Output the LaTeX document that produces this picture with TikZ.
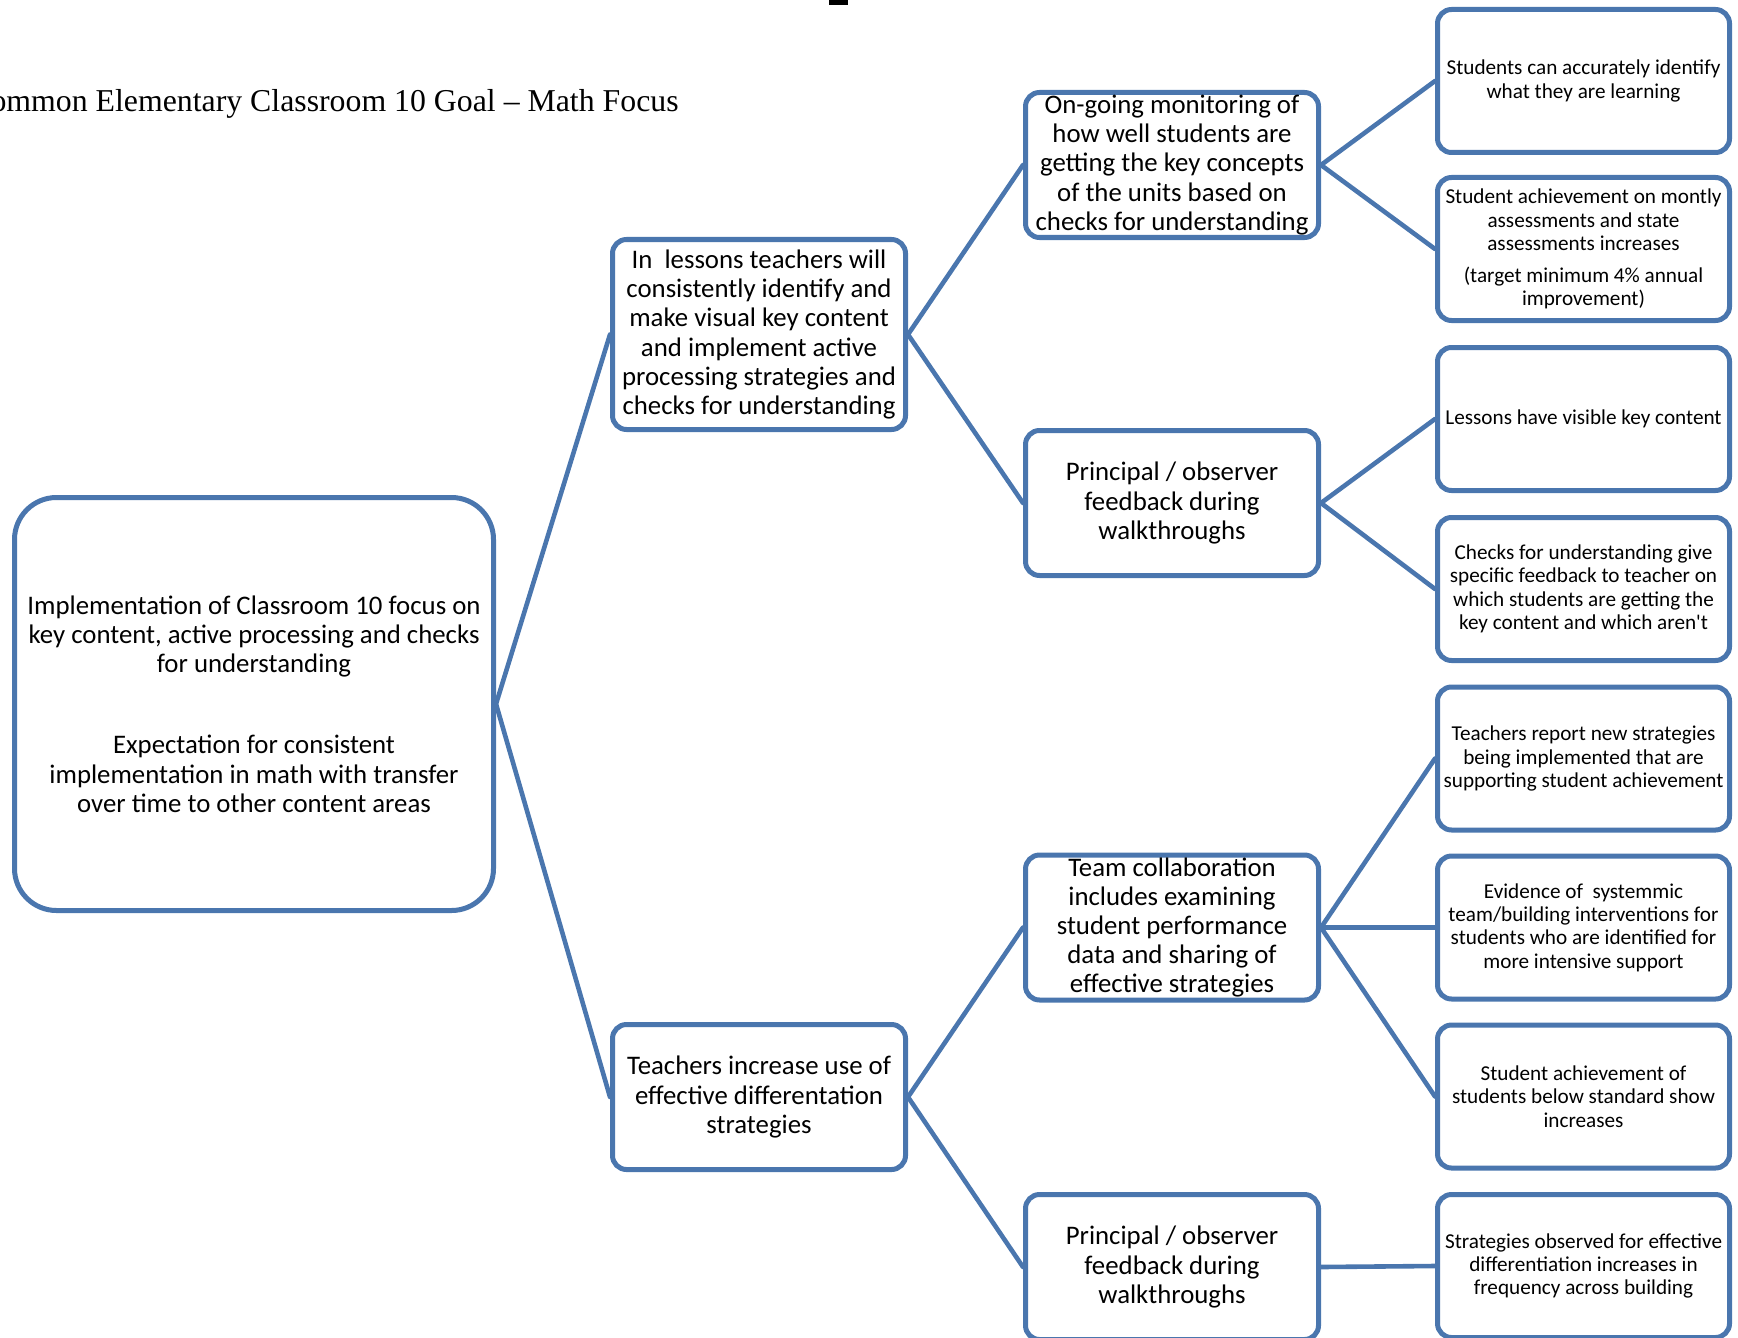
\documentclass[tikz,border=0pt]{standalone}
\usepackage{fontspec}
\setmainfont{Carlito}
\newfontfamily\titlefont{Liberation Serif}
\usetikzlibrary{positioning}
\definecolor{boxblue}{HTML}{4A76AE}

\begin{document}
\begin{tikzpicture}[x=0.5pt, y=-0.5pt,
  box/.style={draw=boxblue, line width=2.5pt, fill=white, rounded corners=7pt, align=center, inner sep=1pt,
    font=\fontsize{13.4}{14.6}\selectfont},
  midbox/.style={box, minimum width=146.5pt, minimum height=72.5pt},
  leaf/.style={box, minimum width=146pt, minimum height=71.5pt, font=\fontsize{10.6}{11.7}\selectfont},
  link/.style={draw=boxblue, line width=2.3pt, line cap=round}]
\useasboundingbox (0,0) rectangle (1738,1337);
\clip (0,0) rectangle (1738,1337);

% page title, cut off at the edges
\node[anchor=base east, inner sep=0pt, font=\titlefont\fontsize{15.9}{18}\selectfont] (title) at (679,112)
  {Common Elementary Classroom 10 Goal – Math Focus};
\fill (829,0) rectangle (848,5);

% goal
\node[box, minimum width=239.5pt, minimum height=206.5pt, rounded corners=21pt] (goal) at (254,704)
  {Implementation of Classroom 10 focus on\\ key content, active processing and checks\\ for understanding\\[26pt]
   Expectation for consistent\\ implementation in math with transfer\\ over time to other content areas};

% strategies
\node[midbox, minimum height=95pt] (lesson) at (759,334.5)
  {In\ \ lessons teachers will\\ consistently identify and\\ make visual key content\\ and implement active\\ processing strategies and\\ checks for understanding};
\node[midbox] (diff) at (759,1097)
  {Teachers increase use of\\ effective differentation\\ strategies};

% actions
\node[midbox] (monitor) at (1172,165)
  {On-going monitoring of\\ how well students are\\ getting the key concepts\\ of the units based on\\ checks for understanding};
\node[midbox] (walk1) at (1172,503) {Principal / observer\\ feedback during\\ walkthroughs};
\node[midbox] (team) at (1172,927.5)
  {Team collaboration\\ includes examining\\ student performance\\ data and sharing of\\ effective strategies};
\node[midbox] (walk2) at (1172,1267) {Principal / observer\\ feedback during\\ walkthroughs};

% outcomes
\node[leaf] (o1) at (1583.5,81) {Students can accurately identify\\ what they are learning};
\node[leaf] (o2) at (1583.5,249)
  {Student achievement on montly\\ assessments and state\\ assessments increases\\[4pt] (target minimum 4\% annual\\ improvement)};
\node[leaf] (o3) at (1583.5,419) {Lessons have visible key content};
\node[leaf] (o4) at (1583.5,589)
  {Checks for understanding give\\ specific feedback to teacher on\\ which students are getting the\\ key content and which aren\textquotesingle t};
\node[leaf] (o5) at (1583.5,758.5)
  {Teachers report new strategies\\ being implemented that are\\ supporting student achievement};
\node[leaf] (o6) at (1583.5,927.5)
  {Evidence of\ \ systemmic\\ team/building interventions for\\ students who are identified for\\ more intensive support};
\node[leaf] (o7) at (1583.5,1096.5)
  {Student achievement of\\ students below standard show\\ increases};
\node[leaf] (o8) at (1583.5,1266)
  {Strategies observed for effective\\ differentiation increases in\\ frequency across building};

% links
\draw[link] (goal.east) -- (lesson.west);
\draw[link] (goal.east) -- (diff.west);
\draw[link] (lesson.east) -- (monitor.west);
\draw[link] (lesson.east) -- (walk1.west);
\draw[link] (diff.east) -- (team.west);
\draw[link] (diff.east) -- (walk2.west);
\draw[link] (monitor.east) -- (o1.west);
\draw[link] (monitor.east) -- (o2.west);
\draw[link] (walk1.east) -- (o3.west);
\draw[link] (walk1.east) -- (o4.west);
\draw[link] (team.east) -- (o5.west);
\draw[link] (team.east) -- (o6.west);
\draw[link] (team.east) -- (o7.west);
\draw[link] (walk2.east) -- (o8.west);
\end{tikzpicture}
\end{document}
